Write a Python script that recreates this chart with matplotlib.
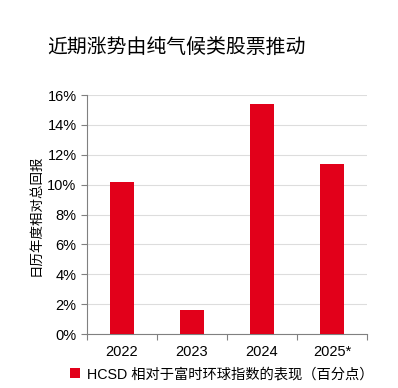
import matplotlib
matplotlib.use("Agg")
import matplotlib.pyplot as plt
from matplotlib.patches import Patch
from matplotlib.ticker import FuncFormatter, MultipleLocator

plt.rcParams['font.family'] = ['Liberation Sans', 'Noto Sans CJK SC', 'DejaVu Sans']

# data
years = ['2022', '2023', '2024', '2025*']
rel_perf = [10.2, 1.6, 15.4, 11.4]

title = '近期涨势由纯气候类股票推动'
ylabel = '日历年度相对总回报'
legend_label = 'HCSD 相对于富时环球指数的表现（百分点）'

red = '#E2001A'

fig = plt.figure(figsize=(3.98, 3.88), dpi=100)
ax = fig.add_axes([0.2186, 0.139, 0.7035, 0.616])

x = range(len(years))
ax.bar(x, rel_perf, width=0.34, color=red, zorder=3)

ax.set_xlim(-0.5, len(years) - 0.5)
ax.set_ylim(0, 16)
ax.yaxis.set_major_locator(MultipleLocator(2))
ax.yaxis.set_major_formatter(FuncFormatter(lambda v, p: f'{v:.0f}%'))
ax.grid(axis='y', color='#dddddd', linewidth=0.8, zorder=0)

ax.set_xticks([i - 0.5 for i in range(len(years) + 1)])
ax.set_xticklabels([])
ax.set_xticks(list(x), minor=True)
ax.set_xticklabels(years, minor=True, fontsize=10.5)
ax.tick_params(axis='x', which='minor', length=0, pad=8)
ax.tick_params(axis='x', which='major', length=4, color='#808080')
ax.tick_params(axis='y', labelsize=10.5, length=4, color='#808080')

for s in ['top', 'right']:
    ax.spines[s].set_visible(False)
for s in ['left', 'bottom']:
    ax.spines[s].set_color('#808080')

fig.text(0.118, 0.878, title, fontsize=14.3, ha='left', va='center',
         family=['Noto Sans CJK SC', 'DejaVu Sans'])
fig.text(0.088, 0.445, ylabel, fontsize=9.7, rotation=90, ha='center', va='center',
         family=['Noto Sans CJK SC', 'DejaVu Sans'])

handles = [Patch(facecolor=red, edgecolor='none')]
fig.legend(handles, [legend_label], loc='center left', bbox_to_anchor=(0.175, 0.035),
           frameon=False, fontsize=10.3, handlelength=0.7, handleheight=0.7,
           handletextpad=0.5, borderpad=0, borderaxespad=0)

fig.savefig('out.png', dpi=100)
